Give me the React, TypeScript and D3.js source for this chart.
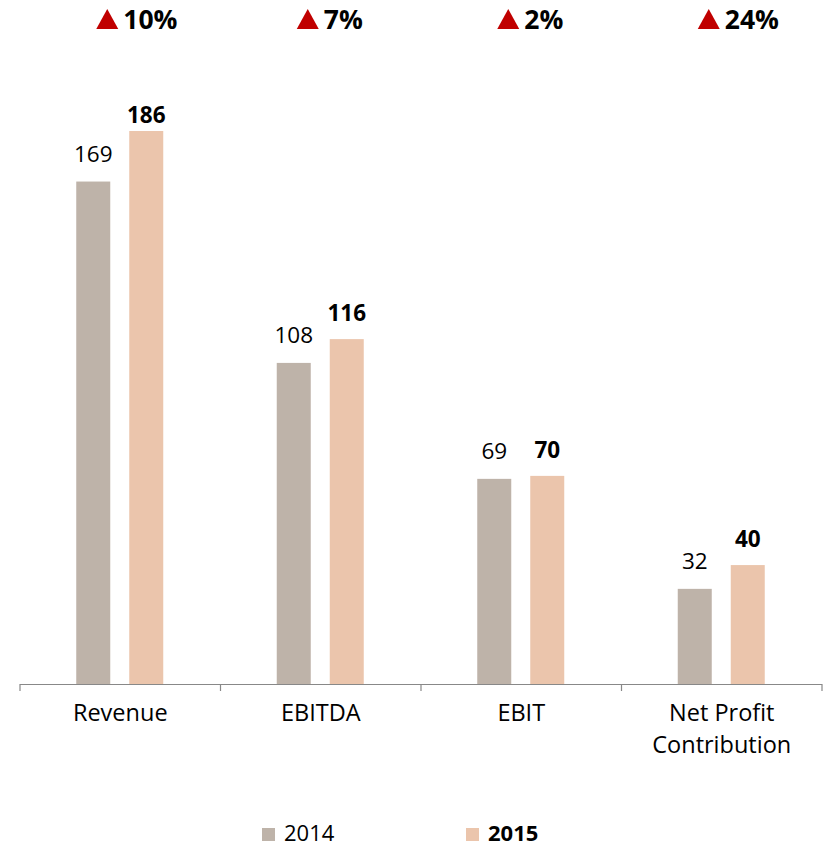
import React from "react";
import * as d3 from "d3";

const categories = ["Revenue", "EBITDA", "EBIT", "Net Profit Contribution"];
const categoryLines = [["Revenue"], ["EBITDA"], ["EBIT"], ["Net Profit", "Contribution"]];
const series = ["2014", "2015"];
const values2014 = [169, 108, 69, 32];
const values2015 = [186, 116, 70, 40];
const growth = ["10%", "7%", "2%", "24%"];
const colors = ["#BEB3A9", "#EBC5AC"];

const W = 825;
const H = 845;
const FONT = "'Open Sans', Lato, sans-serif";

export default function App() {
  const x = d3.scaleBand<string>().domain(categories).range([20, 822]).paddingInner(0).paddingOuter(0);
  const inner = d3.scaleBand<string>().domain(series).range([-44, 43]).paddingInner(0.3585).paddingOuter(0);
  const y = d3.scaleLinear().domain([0, 186]).range([684, 131]);
  const data = [values2014, values2015];
  const ticks = [...categories.map((c) => x(c) as number), 822];

  return (
    <svg width={W} height={H} style={{ position: "absolute", left: 0, top: 0, background: "#fff" }} fontFamily={FONT}>
      {categories.map((c, i) => {
        const cx = (x(c) as number) + x.bandwidth() / 2;
        return (
          <g key={c}>
            {series.map((s, j) => {
              const v = data[j][i];
              const bx = cx + (inner(s) as number);
              const ly = Math.max(y(v) - (j === 0 ? 20 : 18), 123);
              return (
                <g key={s}>
                  <rect x={bx} y={y(v)} width={inner.bandwidth()} height={y(0) - y(v)} fill={colors[j]} />
                  <text
                    x={bx + inner.bandwidth() / 2}
                    y={ly}
                    textAnchor="middle"
                    fontSize={22.5}
                    fontWeight={j === 1 ? "bold" : "normal"}
                    fill="#000"
                  >
                    {v}
                  </text>
                </g>
              );
            })}
            <path d={`M${cx - 24},29 L${cx - 13},9 L${cx - 2},29 Z`} fill="#C00000" />
            <text x={cx + 3} y={29} fontSize={26.5} fontWeight="bold" fill="#000">
              {growth[i]}
            </text>
            {categoryLines[i].map((line, k) => (
              <text key={k} x={cx} y={721 + k * 32} textAnchor="middle" fontSize={23.5} fill="#000">
                {line}
              </text>
            ))}
          </g>
        );
      })}
      <line x1={20} x2={822} y1={684.5} y2={684.5} stroke="#888" strokeWidth={1.2} />
      {ticks.map((t, i) => (
        <line key={i} x1={t} x2={t} y1={684} y2={691} stroke="#888" strokeWidth={1.2} />
      ))}
      {series.map((s, j) => {
        const lx = [262, 466][j];
        return (
          <g key={s}>
            <rect x={lx} y={828} width={13} height={13} fill={colors[j]} />
            <text x={lx + 22} y={841} fontSize={22} fontWeight={j === 1 ? "bold" : "normal"} fill="#000">
              {s}
            </text>
          </g>
        );
      })}
    </svg>
  );
}
